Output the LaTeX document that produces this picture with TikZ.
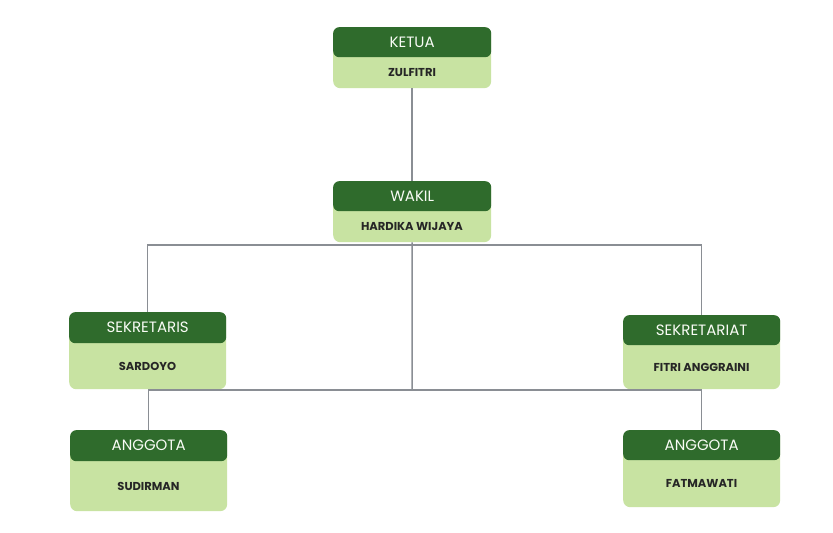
\documentclass[tikz,border=0pt]{standalone}
\usepackage{fontspec}
\setmainfont{Poppins}
\definecolor{dg}{HTML}{2F6B2C}
\definecolor{lg}{HTML}{C8E3A2}
\definecolor{ln}{HTML}{8A8E94}
\newcommand{\orgbox}[8]{% name, x1,y1(top), x2, ymid, y2, title, person
  \node[draw=none,fill=lg,rounded corners=7pt,minimum width={#4-#2},minimum height={#6-#3},inner sep=0pt,anchor=north west] (#1) at (#2,#3) {};
  \node[fill=dg,rounded corners=6pt,minimum width={#4-#2},minimum height={#5-#3},inner sep=0pt,anchor=north west,text=white!90!lg,font=\fontsize{15}{15}\selectfont] (#1h) at (#2,#3) {#7};
  \node[font=\bfseries\fontsize{11.5}{12}\selectfont,text=black!85] (#1t) at ({(#2+#4)/2},{(#5+#6)/2}) {#8};
}
\begin{document}
\begin{tikzpicture}[x=1pt,y=-1pt,conn/.style={draw=ln,line width=1.5pt}]
\useasboundingbox[fill=white] (0,0) rectangle (833,533);
\orgbox{k}{333}{27}{491}{57}{88}{KETUA}{ZULFITRI}
\orgbox{w}{333}{181}{491}{211}{242}{WAKIL}{HARDIKA WIJAYA}
\orgbox{s}{69}{312}{226}{343}{389}{SEKRETARIS}{SARDOYO}
\orgbox{st}{623}{315}{780}{345}{389}{SEKRETARIAT}{FITRI ANGGRAINI}
\orgbox{a}{70}{430}{227}{461}{511}{ANGGOTA}{SUDIRMAN}
\orgbox{b}{623}{430}{780}{460}{507}{ANGGOTA}{FATMAWATI}
\coordinate (j1) at (412,245);
\coordinate (j2) at (412,390);
\begin{scope}[on background layer/.try]
\end{scope}
\draw[conn] (k.south) -- (wh.north);
\draw[conn] (w.south) -- (j2);
\draw[conn] (sh.north) |- (j1) -| (sth.north);
\draw[conn] (ah.north) |- (j2) -| (bh.north);
\end{tikzpicture}
\end{document}
